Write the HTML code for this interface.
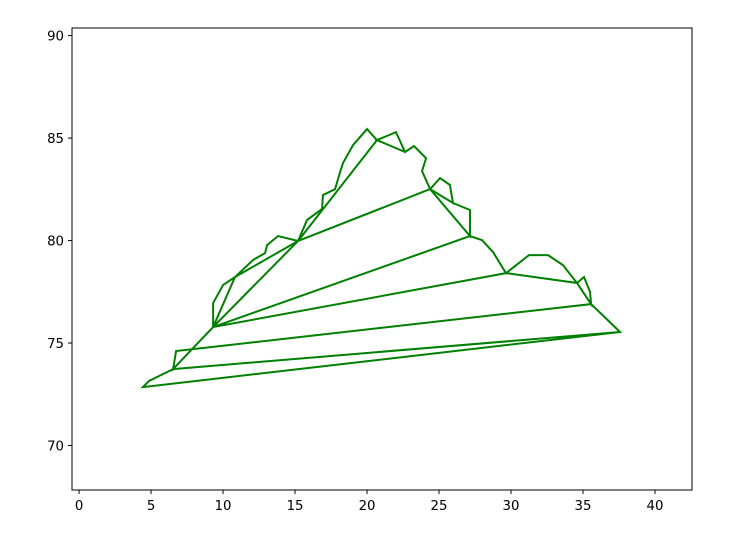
<!DOCTYPE html>
<html><head><meta charset="utf-8"><style>
html,body{margin:0;padding:0;background:#fff;}
svg text{font-family:"DejaVu Sans","Liberation Sans",sans-serif;font-size:13.3px;fill:#000;}
</style></head><body>
<svg id="chart" width="743" height="551" viewBox="0 0 743 551" xmlns="http://www.w3.org/2000/svg">
<rect x="0" y="0" width="743" height="551" fill="#fff"/>
<g id="plot"></g>
<g id="axes"></g>
</svg>
<script>
const xTicks = [0, 5, 10, 15, 20, 25, 30, 35, 40];
const yTicks = [70, 75, 80, 85, 90];
const xValues = [37.57,4.44,4.86,6.53,37.57,35.56,6.74,6.53,9.31,29.65,31.25,32.57,33.61,34.58,35.07,35.49,35.56,34.58,29.65,28.75,27.99,27.15,9.31,9.31,10.0,10.83,9.31,15.21,10.83,12.08,12.92,13.06,13.82,15.21,24.38,27.15,27.15,25.97,24.38,25.07,25.76,25.97,24.38,23.82,24.1,23.26,22.64,22.01,20.69,22.64,20.69,20.0,19.03,18.33,18.13,17.78,16.94,16.875,15.83,15.21,20.69];
const yValues = [75.54,72.85,73.15,73.73,75.54,76.9,74.61,73.73,75.78,78.41,79.29,79.29,78.8,77.93,78.22,77.49,76.9,77.93,78.41,79.44,80.02,80.22,75.78,76.95,77.83,78.22,75.78,79.98,78.22,79.05,79.39,79.78,80.22,79.98,82.51,80.22,81.49,81.83,82.51,83.05,82.71,81.83,82.51,83.39,84.02,84.61,84.32,85.29,84.9,84.32,84.9,85.44,84.66,83.78,83.34,82.51,82.22,81.54,81.0,79.98,84.9];

const L=72,R=692,T=28,B=490;
const xMin=-0.49,xMax=42.57,yMin=67.83,yMax=90.37;
function sx(v){return L+(v-xMin)/(xMax-xMin)*(R-L);}
function sy(v){return B-(v-yMin)/(yMax-yMin)*(B-T);}
const NS="http://www.w3.org/2000/svg";
const plot=document.getElementById('plot');
const axes=document.getElementById('axes');

let d='';
for(let i=0;i<xValues.length;i++){d+=(i?'L':'M')+sx(xValues[i]).toFixed(2)+','+sy(yValues[i]).toFixed(2);}
const path=document.createElementNS(NS,'path');
path.setAttribute('d',d);
path.setAttribute('fill','none');
path.setAttribute('stroke','#008000');
path.setAttribute('stroke-width','2');
path.setAttribute('stroke-linejoin','miter');


plot.appendChild(path);

const frame=document.createElementNS(NS,'rect');
frame.setAttribute('x',L);frame.setAttribute('y',T);
frame.setAttribute('width',R-L);frame.setAttribute('height',B-T);
frame.setAttribute('fill','none');frame.setAttribute('stroke','#000');frame.setAttribute('stroke-width','1');


axes.appendChild(frame);

xTicks.forEach(v=>{
  const x=sx(v);
  const t=document.createElementNS(NS,'line');
  t.setAttribute('x1',x);t.setAttribute('x2',x);t.setAttribute('y1',B);t.setAttribute('y2',B+4);
  t.setAttribute('stroke','#000');
  
  
  axes.appendChild(t);
  const lb=document.createElementNS(NS,'text');
  lb.setAttribute('x',x);lb.setAttribute('y',B+20);lb.setAttribute('text-anchor','middle');
  lb.textContent=v;
  
  
  axes.appendChild(lb);
});
yTicks.forEach(v=>{
  const y=sy(v);
  const t=document.createElementNS(NS,'line');
  t.setAttribute('x1',L-4);t.setAttribute('x2',L);t.setAttribute('y1',y);t.setAttribute('y2',y);
  t.setAttribute('stroke','#000');
  
  
  axes.appendChild(t);
  const lb=document.createElementNS(NS,'text');
  lb.setAttribute('x',L-8);lb.setAttribute('y',y+5);lb.setAttribute('text-anchor','end');
  lb.textContent=v;
  
  
  axes.appendChild(lb);
});
</script>
</body></html>
